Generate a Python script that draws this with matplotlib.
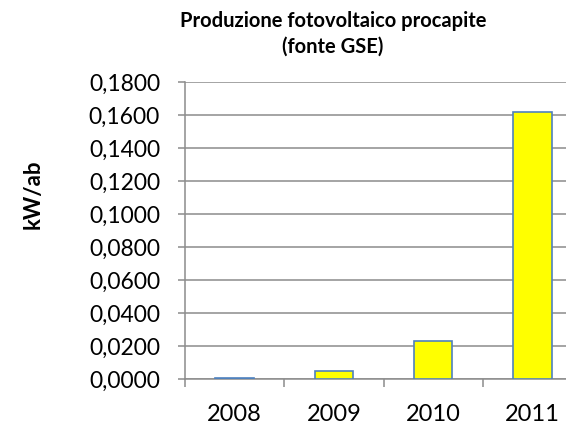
"""
Produzione fotovoltaico procapite (fonte GSE) - grafico a barre.
"""
import matplotlib
matplotlib.use('Agg')
import matplotlib.pyplot as plt
from matplotlib.ticker import FuncFormatter

anni = ['2008', '2009', '2010', '2011']
kw_ab = [0.0006, 0.0050, 0.0232, 0.1620]
y_ticks = [0.00, 0.02, 0.04, 0.06, 0.08, 0.10, 0.12, 0.14, 0.16, 0.18]

plt.rcParams['font.family'] = ['Lato', 'DejaVu Sans']

fig = plt.figure(figsize=(5.66, 4.25), dpi=100)
# l'area del grafico esce un po' a destra, come nell'originale
ax = fig.add_axes([185 / 566, 1 - 379 / 425, 397 / 566, 297 / 425])

x = list(range(len(anni)))
ax.bar(x, kw_ab, width=0.39, color='#ffff00', edgecolor='#4f81bd',
       linewidth=1.2, zorder=3)

ax.set_xlim(-0.5, len(anni) - 0.5)
ax.set_ylim(0, 0.18)
ax.set_yticks(y_ticks)
ax.yaxis.set_major_formatter(FuncFormatter(lambda v, p: f'{v:.4f}'.replace('.', ',')))
ax.grid(True, axis='y', color='#8c8c8c', linewidth=1.1, zorder=0)

# tacche ai bordi delle categorie, etichette al centro
ax.set_xticks([i - 0.5 for i in range(len(anni) + 1)])
ax.set_xticklabels([])
ax.set_xticks(x, minor=True)
ax.set_xticklabels(anni, minor=True)
ax.tick_params(axis='x', which='major', length=6, width=1.1, color='#8c8c8c')
ax.tick_params(axis='x', which='minor', length=0, pad=18, labelsize=17)
ax.tick_params(axis='y', length=5, width=1.1, color='#8c8c8c', pad=13, labelsize=16.5)

for lato in ['top', 'right']:
    ax.spines[lato].set_visible(False)
for lato in ['left', 'bottom']:
    ax.spines[lato].set_color('#8c8c8c')
    ax.spines[lato].set_linewidth(1.1)

fig.text(333 / 566, 1 - 34 / 425, 'Produzione fotovoltaico procapite\n(fonte GSE)',
         ha='center', va='center', fontsize=14.5, fontweight='bold', linespacing=1.35)
fig.text(33 / 566, 1 - 194 / 425, 'kW/ab', rotation=90, ha='center', va='center',
         fontsize=16, fontweight='bold')

fig.savefig('out.png', dpi=100)
